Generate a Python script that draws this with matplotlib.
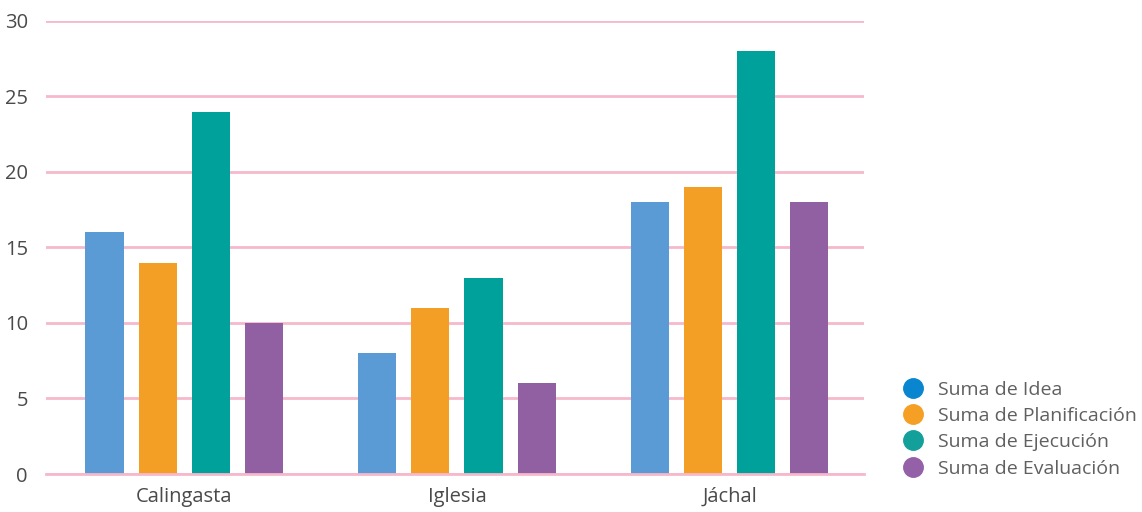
import numpy as np
import matplotlib
matplotlib.use('Agg')
import matplotlib.pyplot as plt
from matplotlib.lines import Line2D

plt.rcParams['font.family'] = ['Open Sans', 'DejaVu Sans']

# data per department
departments = ['Calingasta', 'Iglesia', 'Jáchal']
series = ['Suma de Idea', 'Suma de Planificación', 'Suma de Ejecución', 'Suma de Evaluación']
idea = [16, 8, 18]
planificacion = [14, 11, 19]
ejecucion = [24, 13, 28]
evaluacion = [10, 6, 18]

bar_colors = ['#5b9bd5', '#f39e25', '#00a19a', '#9160a3']
legend_colors = ['#0a86d0', '#f5a024', '#14a09a', '#9460a8']
grid_col = '#f6b9cb'

fig = plt.figure(figsize=(11.42, 5.12), dpi=100)
ax = fig.add_axes([0.0403, 0.0742, 0.7163, 0.885])

x = np.arange(len(departments))
width = 0.14
step = 0.195
values = [idea, planificacion, ejecucion, evaluacion]
for i, (vals, col) in enumerate(zip(values, bar_colors)):
    ax.bar(x + (i - 1.5) * step, vals, width=width, color=col, zorder=3)

ax.set_xlim(-0.507, 2.493)
ax.set_ylim(0, 30)
ax.set_yticks(range(0, 31, 5))
ax.set_xticks(x)
ax.set_xticklabels(departments)
ax.yaxis.grid(True, color=grid_col, linewidth=2, zorder=0)
ax.axhline(0, color=grid_col, linewidth=2, zorder=4, clip_on=False)
ax.tick_params(axis='both', length=0, labelsize=14.5, labelcolor='#4a4a4a')
ax.tick_params(axis='y', pad=13)
ax.tick_params(axis='x', pad=9)
for s in ax.spines.values():
    s.set_visible(False)

handles = [Line2D([], [], marker='o', linestyle='none', markersize=14,
                  markerfacecolor=c, markeredgecolor=c) for c in legend_colors]
fig.legend(handles, series, loc='upper left', bbox_to_anchor=(0.776, 0.272),
           frameon=False, fontsize=14, labelcolor='#606060',
           handletextpad=0.25, labelspacing=0.43, borderaxespad=0)

fig.savefig('out.png', dpi=100)
